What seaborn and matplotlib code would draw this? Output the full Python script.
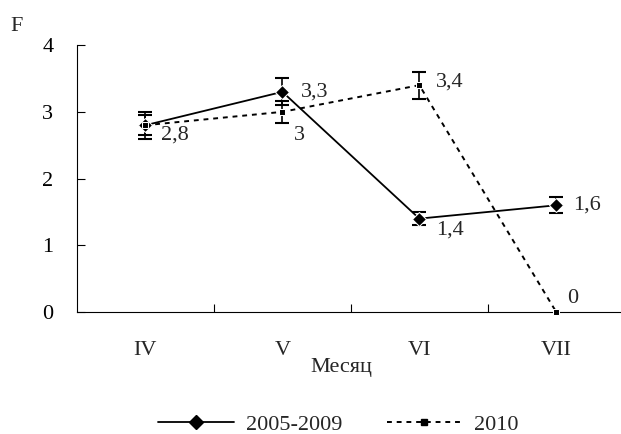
import numpy as np
import pandas as pd
import seaborn as sns
import matplotlib.pyplot as plt
from matplotlib.lines import Line2D

months = ['IV', 'V', 'VI', 'VII']
f_2005_2009 = [2.8, 3.3, 1.4, 1.6]
err_2005_2009 = [0.2, 0.2, 0.1, 0.12]
f_2010 = [2.8, 3.0, 3.4, 0.0]
err_2010 = [0.15, 0.17, 0.2, 0.0]
labels_2005_2009 = ['2,8', '3,3', '1,4', '1,6']
labels_2010 = ['', '3', '3,4', '0']

df = pd.DataFrame({
    'pos': list(range(4)) * 2,
    'F': f_2005_2009 + f_2010,
    'period': ['2005-2009'] * 4 + ['2010'] * 4,
})

sns.set_style("white")
plt.rcParams['font.family'] = ['Liberation Serif', 'DejaVu Serif']
fs = 16

fig = plt.figure(figsize=(6.21, 4.34), dpi=100)
ax = fig.add_axes([0.124, 0.281, 0.882, 0.615])

sns.lineplot(data=df[df.period == '2005-2009'], x='pos', y='F', color='black',
             marker='D', markersize=7, linewidth=1.3, ax=ax, errorbar=None)
sns.lineplot(data=df[df.period == '2010'], x='pos', y='F', color='black',
             marker='s', markersize=4.5, linewidth=1.4, linestyle=(0, (2.5, 2.5)),
             ax=ax, errorbar=None)
for ln in ax.lines:
    ln.set_clip_on(False)
    ln.set_zorder(3)

x = np.arange(4)
ax.errorbar(x, f_2005_2009, yerr=err_2005_2009, fmt='none', ecolor='black',
            elinewidth=1.2, capsize=5, capthick=1.5)
ax.errorbar(x[:3], f_2010[:3], yerr=err_2010[:3], fmt='none', ecolor='black',
            elinewidth=1.2, capsize=5, capthick=1.5)

# value labels
offs_a = [(11, -7), (13, 0), (12, -8), (12, 0)]
for i, (v, t) in enumerate(zip(f_2005_2009, labels_2005_2009)):
    ax.annotate(t, (i, v), xytext=offs_a[i], textcoords='offset points',
                va='center', ha='left', fontsize=fs)
offs_b = [(0, 0), (8, -17), (12, 2), (8, 10)]
for i, (v, t) in enumerate(zip(f_2010, labels_2010)):
    if t:
        ax.annotate(t, (i, v), xytext=offs_b[i], textcoords='offset points',
                    va='center', ha='left', fontsize=fs)

ax.set_xlim(-0.5, 3.5)
ax.set_ylim(0, 4)
ax.set_yticks([0, 1, 2, 3, 4])
ax.set_xticks([0.5, 1.5, 2.5])
ax.set_xticklabels([])
ax.set_xticks(x, minor=True)
ax.set_xticklabels(months, minor=True)
ax.tick_params(axis='x', which='major', bottom=True, direction='in', length=6,
               width=0.8, colors='black')
ax.tick_params(axis='x', which='minor', bottom=True, length=0, pad=21, labelsize=fs)
ax.tick_params(axis='y', left=True, direction='in', length=6, width=0.8,
               colors='black', pad=17, labelsize=fs)
ax.set_xlabel('')
ax.set_ylabel('')

for s in ['top', 'right']:
    ax.spines[s].set_visible(False)
for s in ['left', 'bottom']:
    ax.spines[s].set_color('black')
    ax.spines[s].set_linewidth(0.8)

fig.text(0.027, 0.94, 'F', fontsize=fs, ha='center', va='center')
fig.text(0.549, 0.153, 'Месяц', fontsize=fs, ha='center', va='center')

handles = [
    Line2D([], [], color='black', marker='D', markersize=7, linewidth=1.3),
    Line2D([], [], color='black', marker='s', markersize=4.5, linewidth=1.4,
           linestyle=(0, (2.5, 2.5))),
]
fig.legend(handles, ['2005-2009', '2010'], loc='center', ncol=2,
           bbox_to_anchor=(0.545, 0.022), frameon=False, handlelength=3.4,
           handletextpad=0.55, columnspacing=2.0, fontsize=fs)

fig.savefig('out.png', dpi=100)
